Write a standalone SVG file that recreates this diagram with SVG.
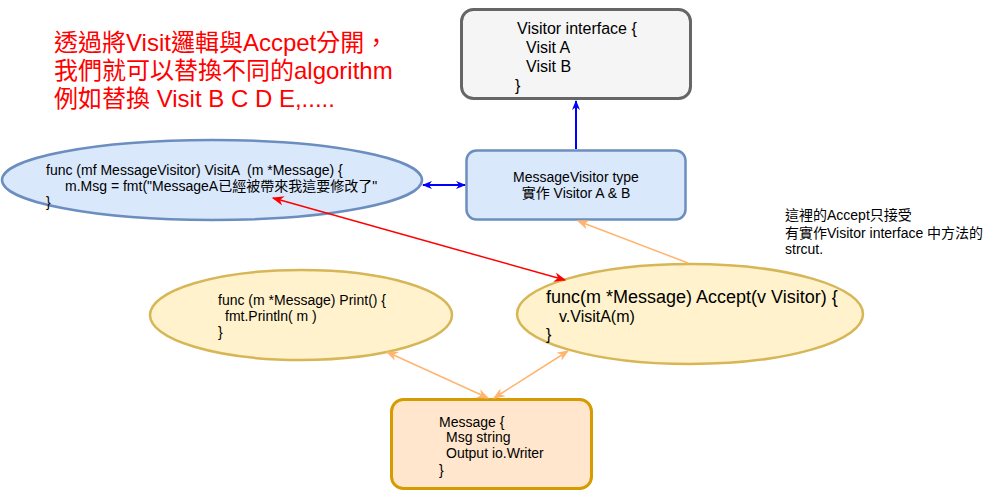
<svg xmlns="http://www.w3.org/2000/svg" width="993" height="491" viewBox="0 0 993 491">
<defs>
<style>
text{font-family:"Liberation Sans","Noto Sans CJK TC",sans-serif;fill:#000;white-space:pre}
.t14{font-size:14px}
.t16{font-size:16px}
.t18{font-size:18px}
.red{font-size:24px;fill:#ff0000}
</style>
<marker id="ab" viewBox="0 0 10 10" refX="9" refY="5" markerWidth="10" markerHeight="10" markerUnits="userSpaceOnUse" orient="auto-start-reverse"><path d="M0,1 L10,5 L0,9 L3,5 Z" fill="#0000ff"/></marker>
<marker id="ar" viewBox="0 0 10 10" refX="9" refY="5" markerWidth="12" markerHeight="12" markerUnits="userSpaceOnUse" orient="auto-start-reverse"><path d="M0,1 L10,5 L0,9 L3,5 Z" fill="#ff0000"/></marker>
<marker id="ao" viewBox="0 0 10 10" refX="9" refY="5" markerWidth="12" markerHeight="12" markerUnits="userSpaceOnUse" orient="auto-start-reverse"><path d="M0,1 L10,5 L0,9 L3,5 Z" fill="#ffb570"/></marker>
</defs>
<g id="title">
<text class="red" x="54" y="51">透過將Visit邏輯與Accpet分開，</text>
<text class="red" x="54" y="79">我們就可以替換不同的algorithm</text>
<text class="red" x="54" y="107">例如替換 Visit B C D E,.....</text>
</g>
<g id="visitor-interface">
<rect x="461.5" y="9.5" width="229" height="89" rx="12" fill="#f5f5f5" stroke="#666666" stroke-width="3"/>
<text class="t16" x="517" y="34">Visitor interface {</text>
<text class="t16" x="526" y="53">Visit A</text>
<text class="t16" x="526" y="72">Visit B</text>
<text class="t16" x="515" y="91">}</text>
</g>
<g id="message-visitor">
<rect x="466.5" y="150.5" width="219" height="69" rx="10" fill="#dae8fc" stroke="#6c8ebf" stroke-width="2.5"/>
<text class="t14" x="576" y="182" text-anchor="middle">MessageVisitor type</text>
<text class="t14" x="576" y="198" text-anchor="middle">實作 Visitor A &amp; B</text>
</g>
<g id="visitA">
<ellipse cx="212" cy="180" rx="210" ry="40" fill="#dae8fc" stroke="#6c8ebf" stroke-width="2.5"/>
<text class="t14" x="46" y="175">func (mf MessageVisitor) VisitA  (m *Message) {</text>
<text class="t14" x="65" y="191">m.Msg = fmt("MessageA已經被帶來我這要修改了"</text>
<text class="t14" x="46" y="207">}</text>
</g>
<g id="print">
<ellipse cx="301" cy="315" rx="151" ry="45" fill="#fff2cc" stroke="#d6b656" stroke-width="2.5"/>
<text class="t14" x="218" y="305">func (m *Message) Print() {</text>
<text class="t14" x="225" y="321">fmt.Println( m )</text>
<text class="t14" x="218" y="337">}</text>
</g>
<g id="accept">
<ellipse cx="690" cy="314" rx="173" ry="50" fill="#fff2cc" stroke="#d6b656" stroke-width="2.5"/>
<text class="t18" x="546" y="303">func(m *Message) Accept(v Visitor) {</text>
<text class="t16" x="559" y="322">v.VisitA(m)</text>
<text class="t16" x="546" y="340">}</text>
</g>
<g id="message">
<rect x="391.5" y="399.5" width="200" height="89" rx="12" fill="#ffe6cc" stroke="#d79b00" stroke-width="3"/>
<text class="t14" x="439" y="427">Message {</text>
<text class="t14" x="446" y="442">Msg string</text>
<text class="t14" x="446" y="458">Output io.Writer</text>
<text class="t14" x="439" y="475">}</text>
</g>
<g id="note">
<text class="t14" x="785" y="220">這裡的Accept只接受</text>
<text class="t14" x="785" y="238">有實作Visitor interface 中方法的</text>
<text class="t14" x="785" y="254">strcut.</text>
</g>
<g id="connectors" fill="none">
<line x1="576" y1="149" x2="576" y2="101" stroke="#0000ff" stroke-width="2" marker-end="url(#ab)"/>
<line x1="423" y1="185" x2="465" y2="185" stroke="#0000ff" stroke-width="2" marker-start="url(#ab)" marker-end="url(#ab)"/>
<line x1="273" y1="198" x2="565" y2="280" stroke="#ff0000" stroke-width="1.5" marker-start="url(#ar)" marker-end="url(#ar)"/>
<line x1="688" y1="263" x2="578" y2="221" stroke="#ffb570" stroke-width="1.5" marker-end="url(#ao)"/>
<line x1="387" y1="352" x2="488" y2="398" stroke="#ffb570" stroke-width="1.5" marker-start="url(#ao)" marker-end="url(#ao)"/>
<line x1="568" y1="351" x2="494" y2="398" stroke="#ffb570" stroke-width="1.5" marker-start="url(#ao)" marker-end="url(#ao)"/>
</g>
</svg>
